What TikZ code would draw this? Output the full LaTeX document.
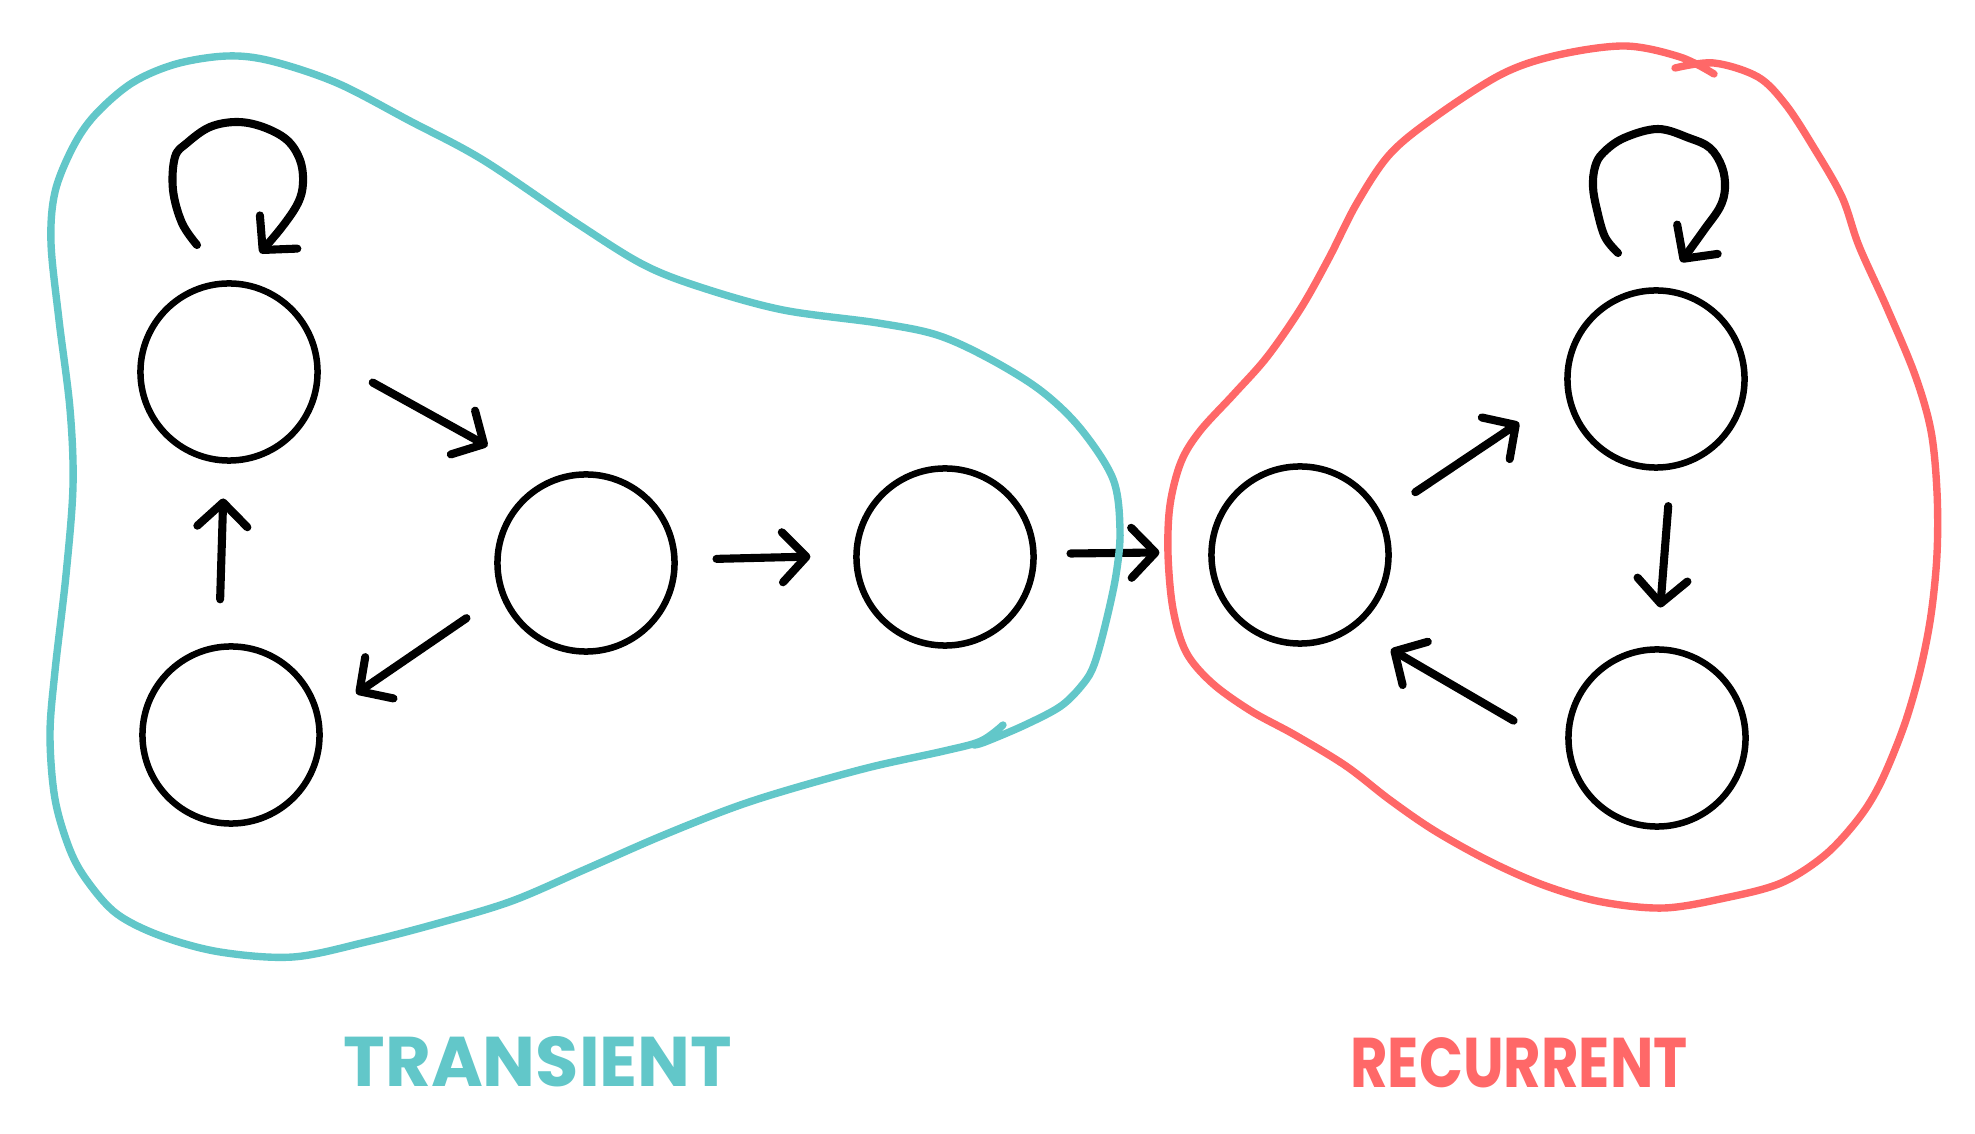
\documentclass[tikz,border=0pt]{standalone}
\usepackage{fontspec}
\newfontfamily\handfont{Poppins}
\usetikzlibrary{arrows.meta}
\definecolor{teal1}{RGB}{98,199,201}
\definecolor{coral1}{RGB}{255,104,104}
\begin{document}
\begin{tikzpicture}[x=0.01cm,y=-0.01cm,
  stnode/.style={circle,draw=black,line width=1.85pt,minimum size=1.77cm,inner sep=0pt,outer sep=0pt},
  arr/.style={line width=2.3pt,line cap=round,line join=round,-{Straight Barb[length=0.24cm,width=0.5cm,round]}},
  blob/.style={line width=2.1pt,line cap=round,line join=round},
  lbl/.style={font=\handfont\bfseries\fontsize{20}{20}\selectfont,inner sep=0pt}]
\useasboundingbox (0,0) rectangle (1975,1134);
\fill[white] (0,0) rectangle (1975,1134);

% states
\node[stnode] (A) at (229,372) {};
\node[stnode] (B) at (231,735) {};
\node[stnode] (C) at (586,563) {};
\node[stnode] (D) at (945,557) {};
\node[stnode] (E) at (1300,555) {};
\node[stnode] (F) at (1656,379) {};
\node[stnode] (G) at (1657,738) {};

% transitions
\draw[arr,shorten <=0.66cm,shorten >=0.73cm] (A.14) -- (C.113);
\draw[arr,shorten <=0.44cm,shorten >=0.46cm] (C.200) -- (B.10);
\draw[arr,shorten <=0.48cm,shorten >=0.38cm] (B.98) -- (A.267);
\draw[arr,shorten <=0.42cm,shorten >=0.46cm] (C.2) -- (D.179);
\draw[arr,shorten <=0.37cm,shorten >=0.52cm] (D.2) -- (E.178);
\draw[arr,shorten <=0.43cm,shorten >=0.59cm] (E.26) -- (F.187);
\draw[arr,shorten <=0.40cm,shorten >=0.42cm] (F.-80) -- (G.90);
\draw[arr,shorten <=0.65cm,shorten >=0.45cm] (G.190) -- (E.-54);

% self loops
\begin{scope}[shift={(A)}]
\draw[arr] plot[smooth,tension=0.6] coordinates {(-32,-127) (-47,-149) (-56,-182) (-54,-215) (-42,-229) (-19,-245) (8,-250) (34,-245) (58,-232) (71,-212) (74,-189) (69,-169) (53,-145) (31,-119)};
\end{scope}
\begin{scope}[shift={(F)}]
\draw[arr] plot[smooth,tension=0.6] coordinates {(-38,-126) (-51,-142) (-59,-169) (-63,-192) (-61,-212) (-53,-226) (-32,-241) (2,-250) (33,-241) (54,-231) (66,-212) (69,-191) (64,-172) (48,-149) (25,-117)};
\end{scope}

% transient class outline
\draw[blob,teal1] plot[smooth,tension=0.55] coordinates {(1003,725) (981,741) (944,751) (871,767) (791,789) (732,808) (659,837) (586,869) (512,901) (439,923) (366,942) (293,957) (220,952) (161,936) (117,914) (88,882) (70,850) (55,799) (50,735) (55,671) (66,575) (73,486) (70,409) (59,320) (51,243) (55,192) (73,147) (95,115) (132,83) (176,64) (227,56) (271,61) (337,83) (410,121) (483,160) (578,224) (644,265) (703,288) (783,310) (878,323) (937,335) (988,358) (1040,390) (1080,428) (1113,479) (1120,530) (1116,575) (1105,626) (1094,665) (1083,684) (1061,706) (1025,725) (985,742) (974,745)};

% recurrent class outline
\draw[blob,coral1] plot[smooth,tension=0.55] coordinates {(1675,68) (1714,63) (1758,77) (1786,105) (1814,148) (1842,197) (1859,246) (1887,308) (1915,375) (1931,431) (1937,492) (1937,554) (1931,615) (1920,671) (1904,726) (1881,782) (1859,818) (1825,855) (1781,883) (1725,898) (1664,908) (1602,902) (1546,886) (1491,862) (1435,831) (1390,800) (1346,766) (1295,735) (1251,711) (1212,683) (1186,652) (1173,609) (1168,554) (1170,505) (1181,462) (1200,431) (1234,394) (1267,357) (1301,308) (1329,258) (1357,203) (1390,154) (1435,117) (1502,74) (1558,55) (1625,46) (1680,57) (1714,74)};

% labels
\node[lbl,text=teal1] (tlabel) at (538,1062) {TRANSIENT};
\node[lbl,text=coral1] (rlabel) at (1519,1063) {\scalebox{0.82}[1]{RECURRENT}};
\end{tikzpicture}
\end{document}
